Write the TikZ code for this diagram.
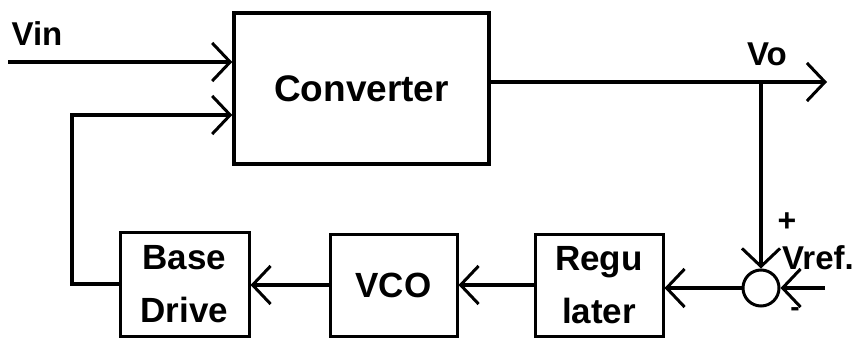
\documentclass[tikz,border=0pt]{standalone}
\usepackage{fontspec}
\setmainfont{Liberation Sans}
\usetikzlibrary{arrows.meta}
\begin{document}
\begin{tikzpicture}[x=1pt,y=-1pt,
  wire/.style={line width=3.5pt},
  arr/.style={wire,-{Straight Barb[length=18pt,width=38pt,line width=3pt]}},
  blk/.style={draw,line width=3pt,inner sep=0pt,align=center,font=\fontsize{35}{53}\selectfont\bfseries},
  lbl/.style={inner sep=0pt,font=\fontsize{33}{36}\selectfont\bfseries}]
\useasboundingbox (0,0) rectangle (856,339);
\node[blk,line width=3.5pt,minimum width=255pt,minimum height=151pt,font=\fontsize{37}{40}\selectfont\bfseries] (conv) at (361.5,88.5) {Converter};
\node[blk,minimum width=129pt,minimum height=104pt] (base) at (184.5,284) {Base\\Drive};
\node[blk,minimum width=127pt,minimum height=102pt] (vco) at (393.5,285) {VCO};
\node[blk,minimum width=128pt,minimum height=102pt] (reg) at (599,285) {Regu\\later};
\node[draw,circle,line width=3pt,minimum size=36pt,inner sep=0pt] (sum) at (761,288) {};
\coordinate (vinstart) at (8,62);
\coordinate (fbcorner1) at (72,284);
\coordinate (fbcorner2) at (72,115);
\coordinate (voend) at (827,82);
\coordinate (vtap) at (761,82);
\coordinate (vrefstart) at (825,288);
\node[lbl] (vin) at (37,34) {Vin};
\node[lbl] (vo) at (767,54) {Vo};
\node[lbl] (vref) at (818,258) {Vref.};
\node[lbl,font=\fontsize{32}{36}\selectfont\bfseries] (plus) at (787,222) {+};
\node[lbl,font=\fontsize{28}{30}\selectfont\bfseries] (minus) at (795,312) {-};
\draw[arr] (vinstart) -- (conv.west |- vinstart);
\draw[arr] (base.west) -- (fbcorner1) -- (fbcorner2) -- (conv.west |- fbcorner2);
\draw[arr] (conv.east |- voend) -- (voend);
\draw[arr] (vtap) -- (sum.north);
\draw[arr] (vrefstart) -- (sum.east);
\draw[arr] (sum.west) -- (reg.east |- sum.west);
\draw[arr] (reg.west) -- (vco.east |- reg.west);
\draw[arr] (vco.west) -- (base.east |- vco.west);
\end{tikzpicture}
\end{document}
